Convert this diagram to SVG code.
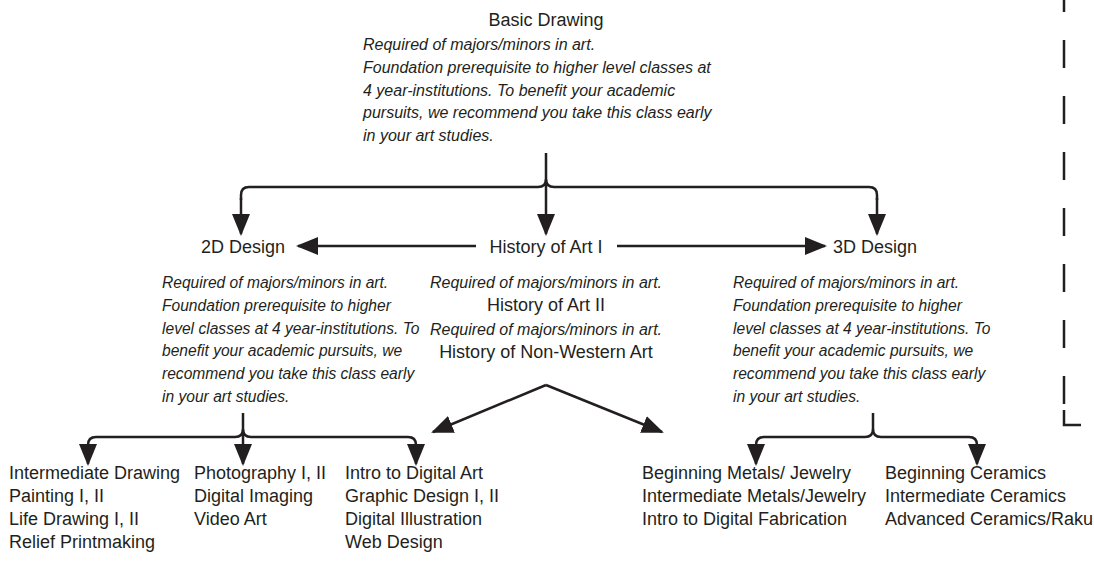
<svg xmlns="http://www.w3.org/2000/svg" width="1094" height="583" viewBox="0 0 1094 583">
<style>
text{font-family:"Liberation Sans",Arial,Helvetica,sans-serif;fill:#231f20}
.t{font-size:18px}
.i{font-size:15.6px;font-style:italic}
.it{font-size:16px;font-style:italic}
.l{font-size:18px}
.c{text-anchor:middle}
.ln{fill:none;stroke:#231f20;stroke-width:2.5}
.ar{fill:none;stroke:#231f20;stroke-width:2.5;marker-end:url(#ah)}
</style>
<defs>
<marker id="ah" markerUnits="userSpaceOnUse" markerWidth="24" markerHeight="20" refX="20" refY="9" orient="auto" viewBox="0 0 24 18">
<path d="M0,0 L22,9 L0,18 z" fill="#231f20"/>
</marker>
</defs>
<rect width="1094" height="583" fill="#fff"/>

<g id="basic-drawing">
<text class="t c" x="546" y="26">Basic Drawing</text>
<text class="it" x="363" y="50">Required of majors/minors in art.</text>
<text class="it" x="363" y="73">Foundation prerequisite to higher level classes at</text>
<text class="it" x="363" y="96">4 year-institutions. To benefit your academic</text>
<text class="it" x="363" y="118">pursuits, we recommend you take this class early</text>
<text class="it" x="363" y="141">in your art studies.</text>
</g>

<g id="design-2d">
<text class="t" x="201" y="253">2D Design</text>
<text class="i" x="162" y="288">Required of majors/minors in art.</text>
<text class="i" x="162" y="311">Foundation prerequisite to higher</text>
<text class="i" x="162" y="334">level classes at 4 year-institutions. To</text>
<text class="i" x="162" y="356">benefit your academic pursuits, we</text>
<text class="i" x="162" y="379">recommend you take this class early</text>
<text class="i" x="162" y="402">in your art studies.</text>
</g>

<g id="history">
<text class="t c" x="546" y="253">History of Art I</text>
<text class="it c" x="546" y="288">Required of majors/minors in art.</text>
<text class="t c" x="546" y="311">History of Art II</text>
<text class="it c" x="546" y="335">Required of majors/minors in art.</text>
<text class="t c" x="546" y="358">History of Non-Western Art</text>
</g>

<g id="design-3d">
<text class="t" x="833" y="253">3D Design</text>
<text class="i" x="733" y="288">Required of majors/minors in art.</text>
<text class="i" x="733" y="311">Foundation prerequisite to higher</text>
<text class="i" x="733" y="334">level classes at 4 year-institutions. To</text>
<text class="i" x="733" y="356">benefit your academic pursuits, we</text>
<text class="i" x="733" y="379">recommend you take this class early</text>
<text class="i" x="733" y="402">in your art studies.</text>
</g>

<g id="drawing-list">
<text class="l" x="9" y="479">Intermediate Drawing</text>
<text class="l" x="9" y="502">Painting I, II</text>
<text class="l" x="9" y="525">Life Drawing I, II</text>
<text class="l" x="9" y="548">Relief Printmaking</text>
</g>

<g id="photo-list">
<text class="l" x="194" y="479">Photography I, II</text>
<text class="l" x="194" y="502">Digital Imaging</text>
<text class="l" x="194" y="525">Video Art</text>
</g>

<g id="digital-list">
<text class="l" x="345" y="479">Intro to Digital Art</text>
<text class="l" x="345" y="502">Graphic Design I, II</text>
<text class="l" x="345" y="525">Digital Illustration</text>
<text class="l" x="345" y="548">Web Design</text>
</g>

<g id="metals-list">
<text class="l" x="642" y="479">Beginning Metals/ Jewelry</text>
<text class="l" x="642" y="502">Intermediate Metals/Jewelry</text>
<text class="l" x="642" y="525">Intro to Digital Fabrication</text>
</g>

<g id="ceramics-list">
<text class="l" x="885" y="479">Beginning Ceramics</text>
<text class="l" x="885" y="502">Intermediate Ceramics</text>
<text class="l" x="885" y="525">Advanced Ceramics/Raku</text>
</g>

<g id="connectors">
<!-- top bracket -->
<path class="ln" d="M546,153 L546,179 Q546,187 538,187 L249,187 Q241,187 241,195 L241,200"/>
<path class="ln" d="M546,179 Q546,187 554,187 L869,187 Q877,187 877,195 L877,200"/>
<path class="ar" d="M241,198 L241,234"/>
<path class="ar" d="M877,198 L877,234"/>
<path class="ar" d="M546,180 L546,234"/>
<!-- horizontal from History of Art I -->
<path class="ar" d="M476,246 L298,246"/>
<path class="ar" d="M617,246 L825,246"/>
<!-- V from Non-Western -->
<path class="ar" d="M546,385 L433,432"/>
<path class="ar" d="M546,385 L662,432"/>
<!-- 2D bracket -->
<path class="ln" d="M243,413 L243,429 Q243,437 235,437 L96,437 Q88,437 88,445 L88,448"/>
<path class="ln" d="M243,429 Q243,437 251,437 L408,437 Q416,437 416,445 L416,448"/>
<path class="ar" d="M88,446 L88,464"/>
<path class="ar" d="M243,430 L243,464"/>
<path class="ar" d="M416,446 L416,464"/>
<!-- 3D bracket -->
<path class="ln" d="M873,413 L873,429 Q873,437 865,437 L764,437 Q756,437 756,445 L756,448"/>
<path class="ln" d="M873,429 Q873,437 881,437 L969,437 Q977,437 977,445 L977,448"/>
<path class="ar" d="M756,446 L756,464"/>
<path class="ar" d="M977,446 L977,464"/>
<!-- dashed boundary -->
<path class="ln" d="M1064,-16 L1064,411" stroke-dasharray="28 28"/>
<path class="ln" d="M1064,410 L1064,425 L1081,425" style="stroke-linejoin:miter"/>
</g>
</svg>
